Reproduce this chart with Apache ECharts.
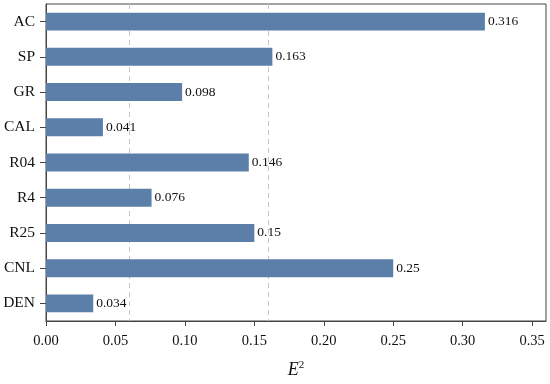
<!DOCTYPE html>
<html><head><meta charset="utf-8">
<script src="https://cdn.jsdelivr.net/npm/echarts@6/dist/echarts.min.js"></script>
<style>html,body{margin:0;padding:0;background:#fff}#c{width:550px;height:384px}</style>
</head><body><div id="c"></div>
<script>
var categories = ['AC','SP','GR','CAL','R04','R4','R25','CNL','DEN'];
var values = [0.316,0.163,0.098,0.041,0.146,0.076,0.15,0.25,0.034];
var xTicks = [0,0.05,0.10,0.15,0.20,0.25,0.30,0.35];
var refLines = [0.06,0.16];
var FONT = "'Liberation Serif','Times New Roman',serif";
var chart = echarts.init(document.getElementById('c'));
chart.setOption({
  animation:false,
  backgroundColor:'#fff',
  grid:{left:46,right:4,top:4,bottom:61,show:true,borderColor:'#444',borderWidth:1,backgroundColor:'transparent'},
  xAxis:{type:'value',min:0,max:0.36,interval:0.05,
    name:'{i|E}{s|2}',nameLocation:'middle',nameGap:39,
    nameTextStyle:{rich:{i:{fontFamily:FONT,fontStyle:'italic',fontSize:18,color:'#111'},s:{fontFamily:FONT,fontSize:11,color:'#111',verticalAlign:'top',padding:[0,0,9,0]}}},
    axisLine:{show:true,lineStyle:{color:'#444'}},
    axisTick:{show:true,length:5,inside:false,customValues:xTicks,lineStyle:{color:'#444'}},
    axisLabel:{customValues:xTicks,formatter:function(v){return v.toFixed(2);},fontFamily:FONT,fontSize:14.5,color:'#111',margin:13},
    splitLine:{show:false}},
  yAxis:{type:'category',data:categories,inverse:true,
    axisLine:{show:true,lineStyle:{color:'#444'}},
    axisTick:{show:true,length:6,alignWithLabel:true,lineStyle:{color:'#444'}},
    axisLabel:{fontFamily:FONT,fontSize:15.5,color:'#111',margin:11},
    splitLine:{show:false}},
  series:[{type:'bar',data:values,barWidth:'51%',z:3,
    itemStyle:{color:'#5b7fa9'},
    label:{show:true,position:'right',distance:3,fontFamily:FONT,fontSize:13.5,color:'#111'},
    markLine:{silent:true,symbol:'none',z:1,label:{show:false},
      lineStyle:{type:[5,4],color:'#c4c4c4',width:1},
      data:refLines.map(function(v){return {xAxis:v};})}
  }]
});
</script></body></html>
